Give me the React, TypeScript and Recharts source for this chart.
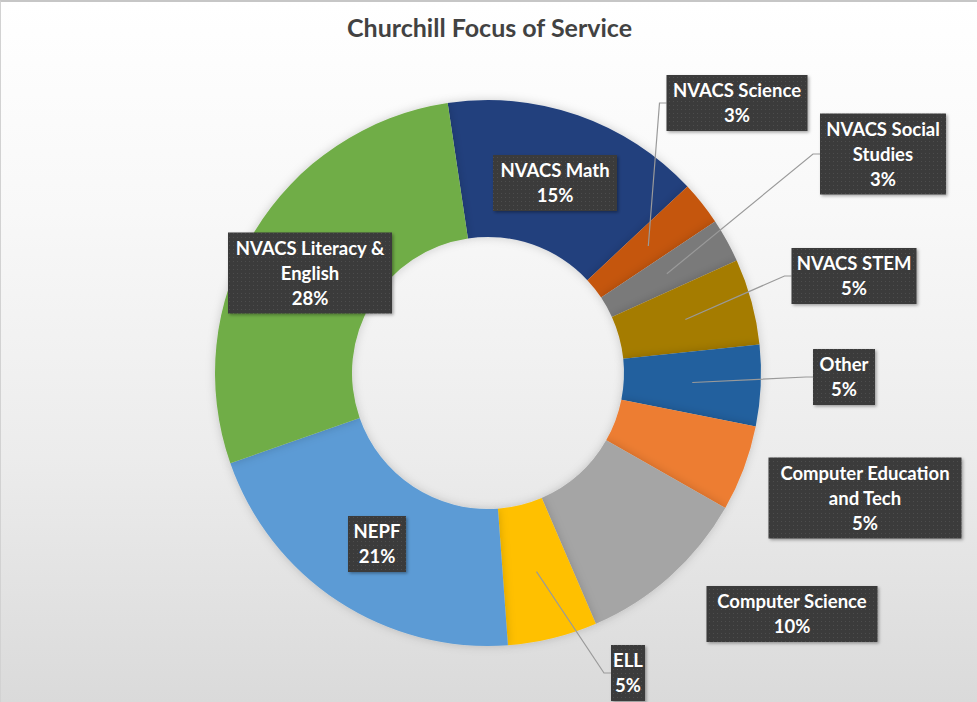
import { PieChart, Pie, Cell } from "recharts";

const categories = [
  "NVACS Math",
  "NVACS Science",
  "NVACS Social Studies",
  "NVACS STEM",
  "Other",
  "Computer Education and Tech",
  "Computer Science",
  "ELL",
  "NEPF",
  "NVACS Literacy & English",
];

// share of services (labels show rounded %)
const shares = [15.4, 2.6, 2.6, 5.1, 4.8, 5.1, 10.3, 5.3, 20.8, 28.0];

const colors = [
  "#22407d",
  "#c5560f",
  "#7a7a7a",
  "#a57b00",
  "#22619e",
  "#ed7d31",
  "#a5a5a5",
  "#ffc000",
  "#5b9bd5",
  "#70ad47",
];

const data = categories.map((name, i) => ({ name, value: shares[i] }));

// callout boxes: centre offset from the pie centre, box size, text lines, leader line on/off
const LABELS: Record<string, { dx: number; dy: number; w: number; lines: string[]; leader: boolean }> = {
  "NVACS Math": { dx: 67, dy: -190, w: 124, lines: ["NVACS Math"], leader: false },
  "NVACS Science": { dx: 249, dy: -270, w: 141, lines: ["NVACS Science"], leader: true },
  "NVACS Social Studies": { dx: 395, dy: -219, w: 126, lines: ["NVACS Social", "Studies"], leader: true },
  "NVACS STEM": { dx: 366, dy: -97, w: 125, lines: ["NVACS STEM"], leader: true },
  Other: { dx: 356, dy: 4, w: 62, lines: ["Other"], leader: true },
  "Computer Education and Tech": { dx: 377, dy: 125, w: 193, lines: ["Computer Education", "and Tech"], leader: false },
  "Computer Science": { dx: 304, dy: 241, w: 171, lines: ["Computer Science"], leader: false },
  ELL: { dx: 140, dy: 300, w: 34, lines: ["ELL"], leader: true },
  NEPF: { dx: -111, dy: 171, w: 58, lines: ["NEPF"], leader: false },
  "NVACS Literacy & English": { dx: -178, dy: -100, w: 164, lines: ["NVACS Literacy &", "English"], leader: false },
};

const RAD = Math.PI / 180;
const LINE_H = 25;

// eslint-disable-next-line @typescript-eslint/no-explicit-any
function CalloutLabel(props: any) {
  const { cx, cy, midAngle, innerRadius, outerRadius, name, percent } = props;
  const cfg = LABELS[name];
  if (!cfg) return null;
  const lines = [...cfg.lines, `${Math.round(percent * 100)}%`];
  const h = lines.length * LINE_H + 6;
  const bx = cx + cfg.dx;
  const by = cy + cfg.dy;
  const r = (innerRadius + outerRadius) / 2;
  const ax = cx + r * Math.cos(-midAngle * RAD);
  const ay = cy + r * Math.sin(-midAngle * RAD);
  const left = bx - cfg.w / 2;
  return (
    <g>
      {cfg.leader && (
        <polyline
          points={`${ax},${ay} ${left - 7},${by} ${left},${by}`}
          fill="none"
          stroke="#9a9a9a"
          strokeWidth={1.2}
        />
      )}
      <rect
        x={left}
        y={by - h / 2}
        width={cfg.w}
        height={h}
        fill="url(#dots)"
        filter="url(#boxShadow)"
      />
      {lines.map((t, i) => (
        <text
          key={i}
          x={bx}
          y={by - ((lines.length - 1) * LINE_H) / 2 + i * LINE_H + 6.5}
          textAnchor="middle"
          fill="#ffffff"
          fontFamily="Lato, 'Open Sans', sans-serif"
          fontWeight={700}
          fontSize={18.5}
        >
          {t}
        </text>
      ))}
    </g>
  );
}

export default function App() {
  return (
    <div
      style={{
        position: "absolute",
        left: 0,
        top: 0,
        width: 977,
        height: 702,
        boxSizing: "border-box",
        borderTop: "2px solid #c6c6c6",
        borderLeft: "1px solid #d2d2d2",
        background: "linear-gradient(180deg, #ffffff 0%, #f8f8f8 30%, #ececec 65%, #dadada 100%)",
        overflow: "hidden",
      }}
    >
      <div
        style={{
          position: "absolute",
          top: 10,
          left: 0,
          width: 977,
          textAlign: "center",
          fontFamily: "Lato, 'Open Sans', sans-serif",
          fontWeight: 700,
          fontSize: 25,
          color: "#424242",
        }}
      >
        Churchill Focus of Service
      </div>
      <div style={{ position: "absolute", left: -1, top: -2 }}>
        <PieChart width={977} height={702} margin={{ top: 0, right: 0, bottom: 0, left: 0 }}>
          <defs>
            <pattern id="dots" width="4" height="4" patternUnits="userSpaceOnUse">
              <rect width="4" height="4" fill="#3a3a3a" />
              <rect x="1" y="1" width="1" height="1" fill="#4e4e4e" />
            </pattern>
            <filter id="boxShadow" x="-20%" y="-20%" width="140%" height="140%">
              <feDropShadow dx="1.5" dy="1.5" stdDeviation="1.5" floodColor="#000" floodOpacity="0.35" />
            </filter>
            <filter id="ringShadow" x="-10%" y="-10%" width="120%" height="120%">
              <feDropShadow dx="0" dy="0" stdDeviation="5" floodColor="#000" floodOpacity="0.18" />
            </filter>
          </defs>
          <Pie
            data={data}
            dataKey="value"
            nameKey="name"
            cx={488}
            cy={373}
            innerRadius={136}
            outerRadius={273}
            startAngle={98.5}
            endAngle={-261.5}
            stroke="none"
            label={CalloutLabel}
            labelLine={false}
            isAnimationActive={false}
            style={{ filter: "url(#ringShadow)" }}
          >
            {data.map((d, i) => (
              <Cell key={d.name} fill={colors[i]} />
            ))}
          </Pie>
        </PieChart>
      </div>
    </div>
  );
}
